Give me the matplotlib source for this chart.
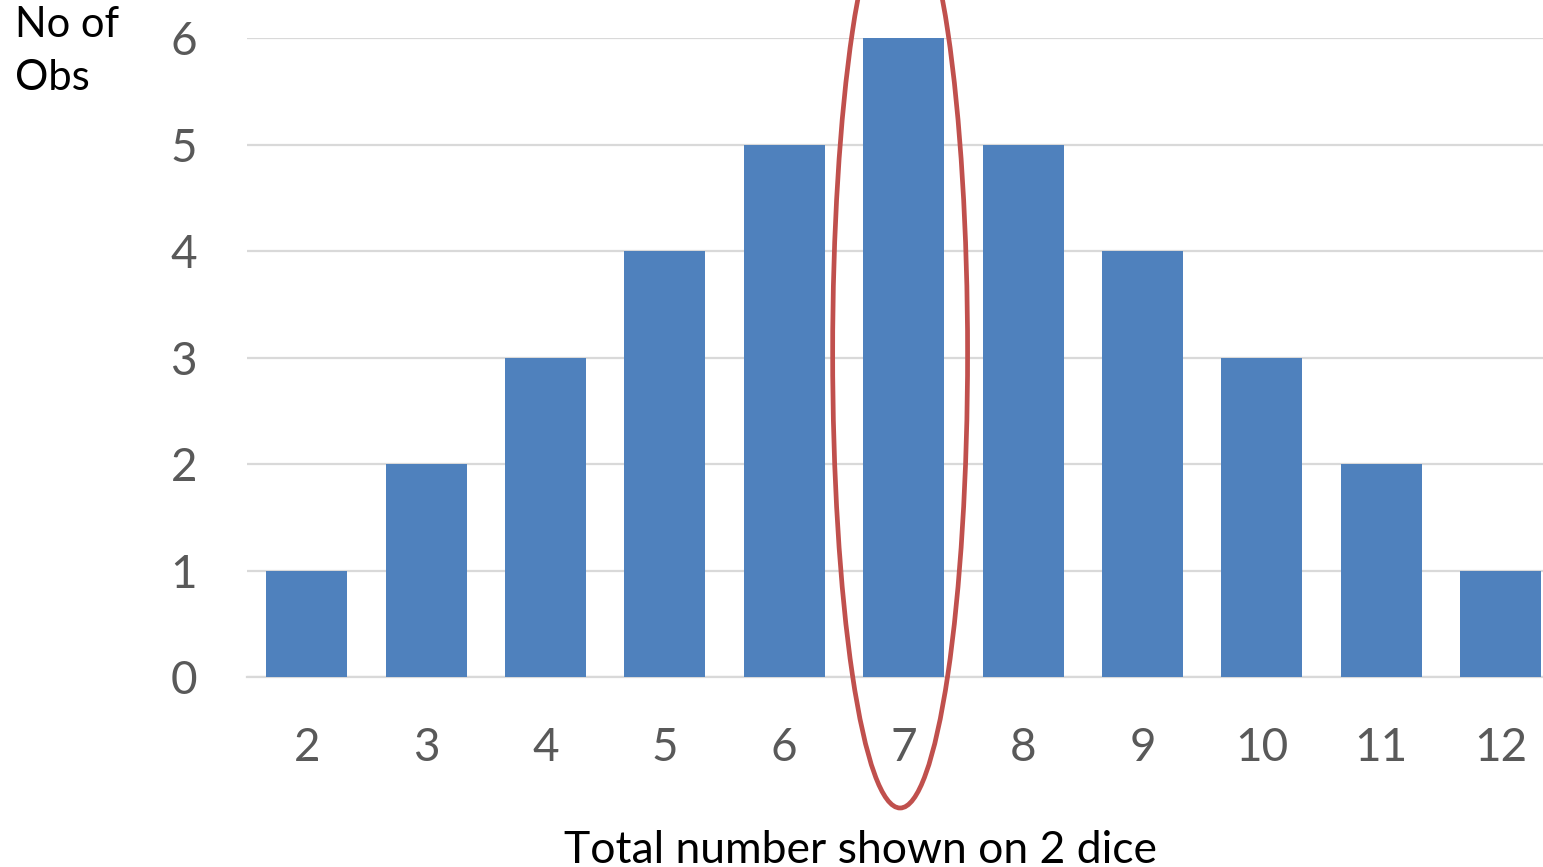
import matplotlib.pyplot as plt
from matplotlib.patches import Ellipse

totals = [2, 3, 4, 5, 6, 7, 8, 9, 10, 11, 12]
counts = [1, 2, 3, 4, 5, 6, 5, 4, 3, 2, 1]
yticks = [0, 1, 2, 3, 4, 5, 6]

plt.rcParams['font.family'] = ['Lato', 'DejaVu Sans']

fig = plt.figure(figsize=(15.43, 8.67), dpi=100)
# axes run slightly past the right edge of the figure
ax = fig.add_axes([247 / 1543, 190 / 867, 1313.4 / 1543, 639 / 867])

ax.bar(totals, counts, width=0.68, color='#4F81BD', zorder=3)
ax.set_xlim(1.5, 12.5)
ax.set_ylim(0, 6)
ax.set_xticks(totals)
ax.set_yticks(yticks)

ax.grid(axis='y', color='#D9D9D9', linewidth=1.6, zorder=0)
for s in ['top', 'right', 'left']:
    ax.spines[s].set_visible(False)
ax.spines['bottom'].set_color('#D9D9D9')
ax.spines['bottom'].set_linewidth(1.6)
ax.tick_params(axis='both', length=0, labelsize=33, labelcolor='#595959')
ax.tick_params(axis='y', pad=36)
ax.tick_params(axis='x', pad=36)

# highlight the most common total
ax.add_patch(Ellipse((6.97, 3.04), 1.13, 8.54, fill=False,
                     edgecolor='#C0504D', linewidth=3.4, clip_on=False, zorder=5))

fig.text(15 / 1543, 1 - 6 / 867, 'No of\nObs', fontsize=30, va='top',
         ha='left', linespacing=1.5)
fig.text(860 / 1543, 1 - 830 / 867, 'Total number shown on 2 dice',
         fontsize=32, va='top', ha='center')

fig.savefig('out.png', dpi=100)
